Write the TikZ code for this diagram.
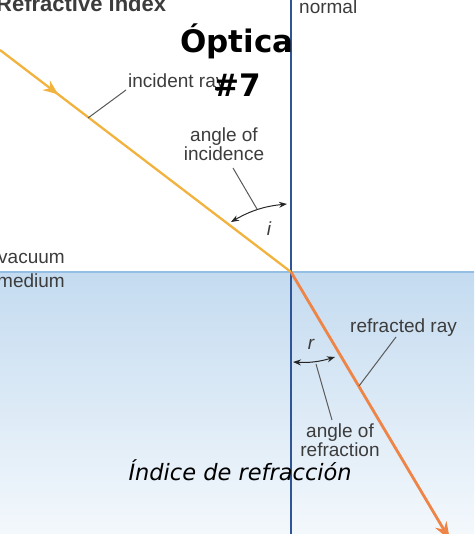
\documentclass[tikz,border=0pt]{standalone}
\usepackage{fontspec}
\setmainfont{Liberation Sans}
\newfontfamily\titlefont{DejaVu Sans}
\usepackage{tikz}
\usetikzlibrary{
	arrows.meta,
	positioning,
	calc,
	decorations.markings
}

\definecolor{rayin}{HTML}{F2B23E}
\definecolor{rayout}{HTML}{EE8446}
\definecolor{normalblue}{HTML}{2F5597}
\definecolor{surfblue}{HTML}{94BEE3}
\definecolor{medtop}{HTML}{C4DBF0}
\definecolor{medbot}{HTML}{F3F8FC}
\definecolor{labelgray}{HTML}{3C3C3C}

\begin{document}
\begin{tikzpicture}[x=1pt, y=-1pt,
    lbl/.style={text=labelgray, font=\fontsize{19}{17}\selectfont, inner sep=0pt},
    leader/.style={draw=labelgray!85, line width=1pt},
    anglearrow/.style={<->, >={Stealth[length=8pt,width=6pt]}, draw=black!85, line width=1pt}]
        \useasboundingbox (0,0) rectangle (474,534);
        \shade[top color=medtop, bottom color=medbot] (0,272) rectangle (474,534); % medium

        \coordinate (O) at (291,272);
        \coordinate (N1) at (291,0);
        \coordinate (N2) at (291,534);
        \coordinate (S1) at (0,272);
        \coordinate (S2) at (474,272);
        \coordinate (in) at (0,50);
        \coordinate (out) at (450,540);

        \draw[surfblue, line width=1.5pt] (S1) -- (S2);
        \draw[normalblue, line width=2pt] (N1) -- (N2);

        \draw[rayin, line width=2.3pt, postaction={decorate},
            decoration={markings, mark=at position 0.2 with {\arrow{Stealth[length=15pt,width=12pt]}}}] (in) -- (O);
        \draw[rayout, line width=2.8pt, -{Stealth[length=18pt,width=13pt]}] (O) -- (out);

        \node[lbl, anchor=base west, font=\fontsize{22}{22}\selectfont\bfseries] (heading) at (-4,12) {Refractive index};
        \node[lbl, anchor=base west] (normallbl) at (299,14) {normal};
        \node[lbl, anchor=base west] (inclbl) at (128,88) {incident ray};
        \node[lbl, anchor=north, align=center] (anginc) at (224,128) {angle of\\incidence};
        \node[lbl] (ilbl) at (269,229) {\itshape i};
        \node[lbl, anchor=base west] (vac) at (-2,263) {vacuum};
        \node[lbl, anchor=base west] (med) at (-3,287) {medium};
        \node[lbl, anchor=base west] (refrlbl) at (350,332) {refracted ray};
        \node[lbl] (rlbl) at (311,344) {\itshape r};
        \node[lbl, anchor=north, align=center] (angref) at (340,424) {angle of\\refraction};

        \coordinate (incfoot) at (88,118);
        \coordinate (inctip) at (126,90);
        \coordinate (ai1) at (231,222);
        \coordinate (ai2) at (287,204);
        \coordinate (aimid) at (257,209);
        \coordinate (aitop) at (233,168);
        \coordinate (ar1) at (293,362);
        \coordinate (ar2) at (335,357);
        \coordinate (armid) at (316,364);
        \coordinate (arbot) at (332,420);
        \coordinate (reffoot) at (359,386);
        \coordinate (reftip) at (396,337);

        \draw[leader] (incfoot) -- (inctip);
        \draw[anglearrow] (ai1) to[bend left=12] (ai2);
        \draw[leader] (aitop) -- (aimid);
        \draw[anglearrow] (ar1) to[bend right=10] (ar2);
        \draw[leader] (armid) -- (arbot);
        \draw[leader] (reffoot) -- (reftip);

        \node[font=\titlefont\bfseries\fontsize{31}{31}\selectfont, anchor=base] (optica) at (237,53) {Óptica};
        \node[font=\titlefont\bfseries\fontsize{31}{31}\selectfont, below=7pt of optica] (num) {\#7}; % title on top
        \node[font=\titlefont\itshape\fontsize{22.5}{22.5}\selectfont, anchor=base west] (indice) at (125,480) {Índice de refracción};
    \end{tikzpicture}
\end{document}
